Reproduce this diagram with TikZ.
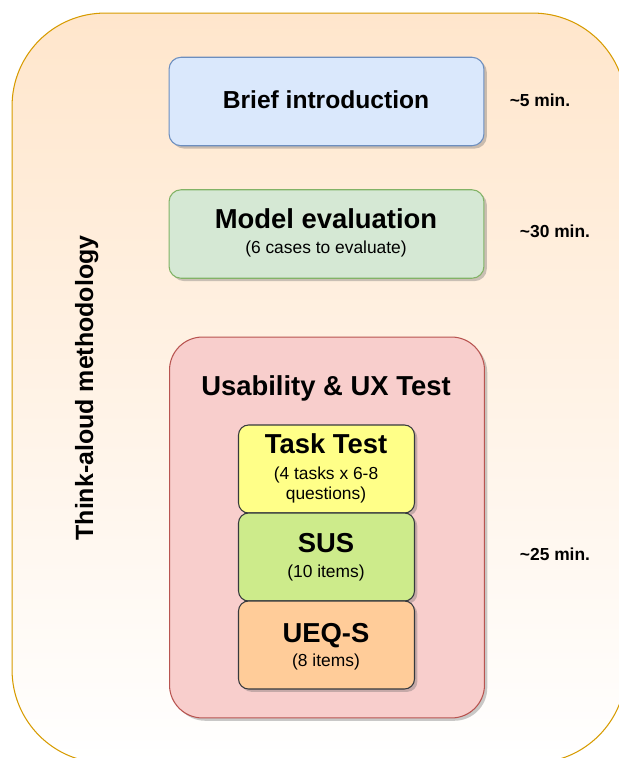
\documentclass[tikz,border=0pt]{standalone}
\usepackage{fontspec}
\setmainfont{Liberation Sans}
\usetikzlibrary{shadows}

\definecolor{methodline}{HTML}{D79B00}
\definecolor{methodfill}{HTML}{FFE6CC}
\definecolor{introfill}{HTML}{DAE8FC}
\definecolor{introline}{HTML}{6C8EBF}
\definecolor{modelfill}{HTML}{D5E8D4}
\definecolor{modelline}{HTML}{82B366}
\definecolor{usefill}{HTML}{F8CECC}
\definecolor{useline}{HTML}{B85450}
\definecolor{taskfill}{HTML}{FFFF88}
\definecolor{susfill}{HTML}{CDEB8B}
\definecolor{ueqfill}{HTML}{FFCC99}
\definecolor{testline}{HTML}{36393D}

\tikzset{
    phase/.style={draw, line width=0.6pt, rounded corners=0.24cm, inner sep=0pt,
        minimum width=6.3cm, minimum height=1.77cm,
        drop shadow={opacity=0.35, fill=black!60, shadow xshift=1.6pt, shadow yshift=-1.6pt}},
    test/.style={phase, draw=testline, rounded corners=0.2cm, minimum width=3.52cm, minimum height=1.76cm},
    bigtext/.style={font=\bfseries\fontsize{15.6}{18}\selectfont, anchor=base},
    smalltext/.style={font=\fontsize{9.9}{11.3}\selectfont, anchor=base, align=center},
    timetext/.style={font=\bfseries\fontsize{9.9}{11.3}\selectfont, anchor=base}
}

\begin{document}
\begin{tikzpicture}[x=0.02cm, y=-0.02cm]
    \useasboundingbox (0,0) rectangle (619,758);
    \clip (0,0) rectangle (619,758);
    \node[draw=methodline, line width=0.6pt, top color=methodfill, bottom color=white,
        rounded corners=1.86cm, minimum width=12.28cm, minimum height=15cm] (method) at (319,388) {};

    \node[phase, draw=introline, fill=introfill] (intro) at (326.5,101.5) {};
    \node[phase, draw=modelline, fill=modelfill] (model) at (326.5,234) {};
    \node[phase, draw=useline, fill=usefill, rounded corners=0.66cm, minimum height=7.62cm] (usab) at (327,527.5) {};
    \node[test, fill=taskfill] (task) at (326.5,469) {};
    \node[test, fill=susfill] (sus) at (326.5,557) {};
    \node[test, fill=ueqfill] (ueq) at (326.5,645) {};

    \node[bigtext, font=\bfseries\fontsize{14}{16}\selectfont] (introT) at (326,108) {Brief introduction};
    \node[bigtext] (modelT) at (326,228) {Model evaluation};
    \node[smalltext] (modelS) at (326,253) {(6 cases to evaluate)};
    \node[bigtext] (usabT) at (326,395) {Usability \& UX Test};
    \node[bigtext] (taskT) at (326,453) {Task Test};
    \node[smalltext] (taskS) at (326,499) {(4 tasks x 6-8\\questions)};
    \node[bigtext] (susT) at (326,552) {SUS};
    \node[smalltext] (susS) at (326,577) {(10 items)};
    \node[bigtext] (ueqT) at (326,642) {UEQ-S};
    \node[smalltext] (ueqS) at (326,666) {(8 items)};

    \node[timetext] (introM) at (540,106) {\textasciitilde5 min.};
    \node[timetext] (modelM) at (555,237) {\textasciitilde30 min.};
    \node[timetext] (usabM) at (555,560) {\textasciitilde25 min.};

    \node[bigtext, font=\bfseries\fontsize{14.2}{16}\selectfont, rotate=90] (methodT) at (93,388) {Think-aloud methodology};
\end{tikzpicture}
\end{document}
